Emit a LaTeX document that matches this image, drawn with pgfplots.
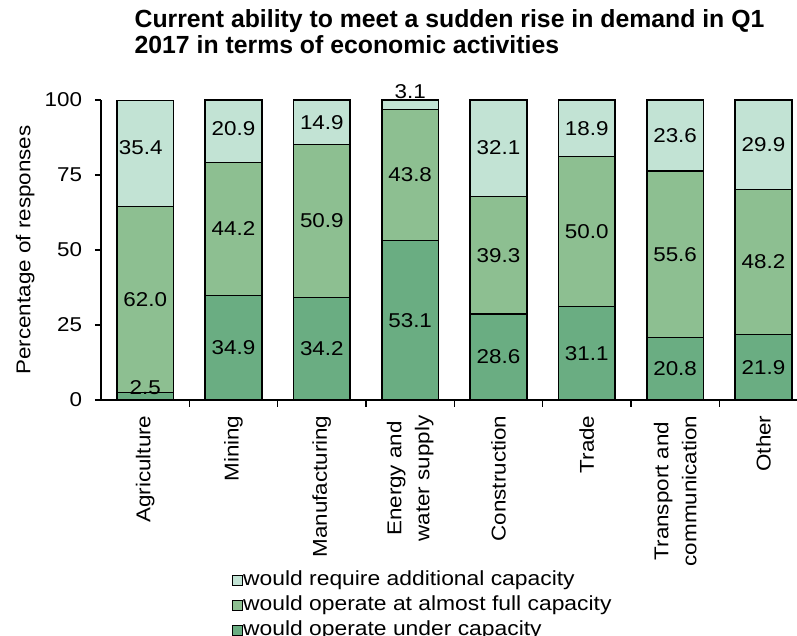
\documentclass[border=0pt]{standalone}
\usepackage{fontspec}
\setmainfont{Liberation Sans}[FakeStretch=1.12]
\newfontfamily\titlefont{Liberation Sans}
\usepackage{pgfplots}
\pgfplotsset{compat=1.18}

\definecolor{cDark}{RGB}{106,173,130}
\definecolor{cMid}{RGB}{141,191,145}
\definecolor{cLight}{RGB}{194,227,212}

\newcommand{\fs}[1]{\fontsize{#1}{#1}\selectfont}

\begin{document}
\begin{tikzpicture}
\begin{axis}[
    name=ax,
    scale only axis,
    width=522pt, height=225pt,
    ybar stacked, bar width=42.5pt,
    xmin=-0.5, xmax=7.38,
    ymin=0, ymax=100,
    axis x line*=bottom, axis y line*=left,
    axis line style={black, line width=1.2pt},
    ytick={0,25,50,75,100},
    xtick={0,...,7},
    xticklabels={Agriculture,Mining,Manufacturing,{Energy and\\water supply},Construction,Trade,{Transport and\\communication},Other},
    major x tick style={draw=none},
    minor xtick={0.5,1.5,...,6.5},
    minor tick length=5pt,
    minor x tick style={black, line width=1pt},
    tick align=outside,
    major tick length=4.5pt,
    ytick style={black, line width=1pt},
    xticklabel style={rotate=90, anchor=east, align=center, font=\fontsize{15}{21}\selectfont, inner sep=0pt, xshift=-7pt},
    yticklabel style={font=\fs{15}, inner sep=0pt, xshift=-9.5pt},
    /pgf/number format/assume math mode=true,
    ylabel={Percentage of responses},
    ylabel style={font=\fs{15}, at={(axis description cs:-0.109,0.5)}, anchor=center, inner sep=0pt},
    reverse legend,
    legend cell align=left,
    legend style={at={(0.188,-0.57)}, anchor=north west, draw=none, fill=none,
        font=\fs{15.3}, row sep=4.25pt, inner sep=0pt,
        nodes={text height=11pt, text depth=3.5pt, inner sep=0pt},
        /tikz/every even column/.append style={column sep=5pt}},
    legend image code/.code={\draw[#1, draw=black, line width=0.8pt] (0pt,-3.2pt) rectangle (7.5pt,4.3pt);},
]
\addplot[fill=cDark, draw=black, line width=1.1pt] coordinates {(0,2.5) (1,34.9) (2,34.2) (3,53.1) (4,28.6) (5,31.1) (6,20.8) (7,21.9)};
\addplot[fill=cMid, draw=black, line width=1.1pt] coordinates {(0,62.0) (1,44.2) (2,50.9) (3,43.8) (4,39.3) (5,50.0) (6,55.6) (7,48.2)};
\addplot[fill=cLight, draw=black, line width=1.1pt] coordinates {(0,35.4) (1,20.9) (2,14.9) (3,3.1) (4,32.1) (5,18.9) (6,23.6) (7,29.9)};
\legend{would operate under capacity, would operate at almost full capacity, would require additional capacity}
\end{axis}
% data labels, overlaid on an unstacked axis of the same size
\begin{axis}[
    scale only axis,
    width=522pt, height=225pt,
    xmin=-0.5, xmax=7.38,
    ymin=0, ymax=100,
    clip=false,
    axis lines=none,
    point meta=explicit symbolic,
    nodes near coords,
    every node near coord/.append style={anchor=center, font=\fs{15}, inner sep=0pt},
]
\addplot[draw=none] coordinates {(0,4.0)[2.5] (1,17.45)[34.9] (2,17.1)[34.2] (3,26.55)[53.1] (4,14.3)[28.6] (5,15.55)[31.1] (6,10.4)[20.8] (7,10.95)[21.9]};
\addplot[draw=none] coordinates {(0,33.5)[62.0] (1,57.0)[44.2] (2,59.65)[50.9] (3,75.0)[43.8] (4,48.25)[39.3] (5,56.1)[50.0] (6,48.6)[55.6] (7,46.0)[48.2]};
\addplot[draw=none] coordinates {(-0.05,84.0)[35.4] (1,90.5)[20.9] (2,92.6)[14.9] (3,102.7)[3.1] (4,84.0)[32.1] (5,90.6)[18.9] (6,88.2)[23.6] (7,85.1)[29.9]};
\end{axis}
\node[anchor=base west, align=left, font=\titlefont\bfseries\fontsize{18.6}{20}\selectfont, inner sep=0pt]
    at ([xshift=25pt, yshift=34.5pt]ax.north west)
    {Current ability to meet a sudden rise in demand in Q1\\2017 in terms of economic activities};
\pgfresetboundingbox
\path ([xshift=-75.75pt, yshift=75pt]ax.north west) rectangle ([yshift=-176.25pt]ax.south east);
\end{tikzpicture}
\end{document}
